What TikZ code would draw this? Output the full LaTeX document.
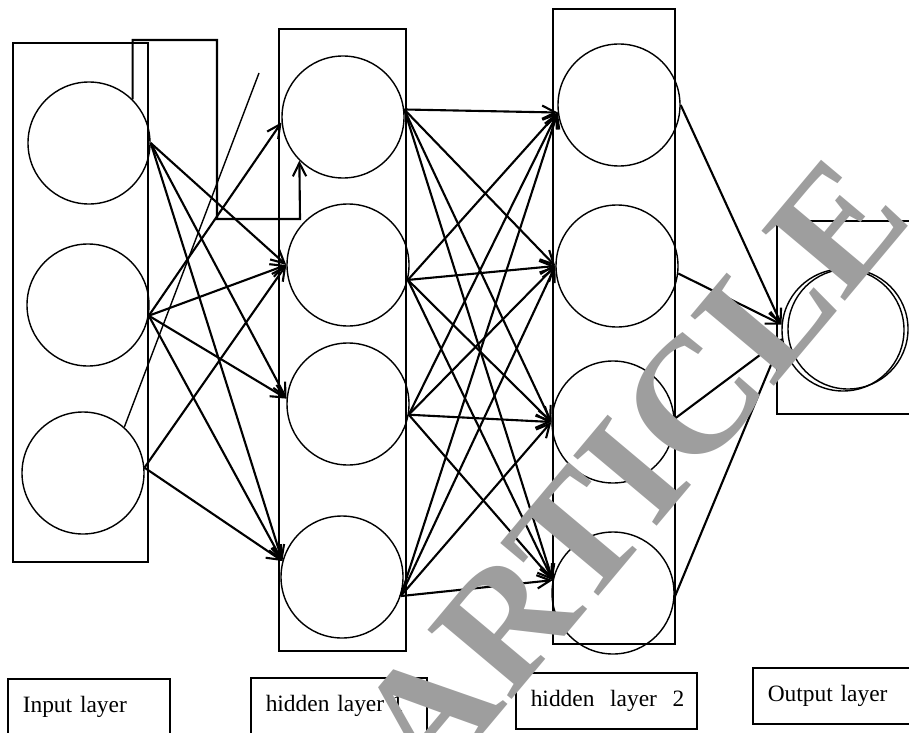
\documentclass[tikz,border=0pt]{standalone}
\usepackage{fontspec}
\setmainfont{Liberation Serif}
\usetikzlibrary{arrows.meta}
\definecolor{wmgray}{RGB}{158,158,158}
\tikzset{
  neuron/.style={circle,draw,line width=1.2pt,minimum size=3.66cm,inner sep=0pt},
  conn/.style={-{Straight Barb[length=4mm,width=4mm]},line width=1.8pt},
  layerbox/.style={line width=1.3pt},
  namebox/.style={draw,line width=1.3pt,anchor=north west,minimum height=1.68cm,inner xsep=0.45cm,align=left,font=\fontsize{20}{24}\selectfont},
  watermark/.style={text=wmgray,rotate=50,inner sep=0pt,font=\fontsize{142}{142}\selectfont\bfseries}
}
\begin{document}
\begin{tikzpicture}[x=0.03cm,y=-0.03cm]
\clip (0,0) rectangle (909,732);
% layer frames
\draw[layerbox] (13,43) rectangle (148,562);
\draw[layerbox] (279,29) rectangle (406,651);
\draw[layerbox] (553,9) rectangle (675,644);
\draw[layerbox] (777,221) rectangle (915,414);
%
       \node [neuron] at (89,143) (i1) {};
        \node [neuron] at (88,305) (i2) {};
         \node [neuron] at (83,473) (i3) {};
          \node [neuron] at (343,117) (h1) {};
           \node [neuron] at (348,265) (h2) {};
            \node [neuron] at (348,404) (h3) {};
             \node [neuron] at (342,577) (h4) {};
              \node [neuron] at (619,105) (g1) {};
               \node [neuron] at (617,266) (g2) {};
                \node [neuron] at (613,422) (g3) {};
                 \node [neuron] at (613,593) (g4) {};
                  \node [neuron,minimum size=3.6cm] at (848,329) (o2) {};
                   \node [neuron] at (843,330) (o) {};
                    \coordinate (loose) at (259,73);
%
% input -> hidden 1
\draw[conn] (i1.45) |- (217,40) |- (300,219) -- (h1.225);
\path[conn] (i1.east) edge (h2.west);
\path[conn] (i1.east) edge (h3.175);
\path[conn] (i1.east) edge (h4.165);
\path[conn] (i2.-10) edge (h1.185);
\path[conn] (i2.-10) edge (h2.west);
\path[conn] (i2.-10) edge (h3.175);
\path[conn] (i2.-10) edge (h4.165);
\path[conn] (i3.5) edge (h2.west);
\path[conn] (i3.5) edge (h4.165);
\draw[line width=1.2pt] (i3.48) -- (loose);
% hidden 1 -> hidden 2
\path[conn] (h1.7) edge (g1.187);
\path[conn] (h1.7) edge (g2.west);
\path[conn] (h1.7) edge (g3.west);
\path[conn] (h1.7) edge (g4.168);
\path[conn] (h2.-14) edge (g1.187);
\path[conn] (h2.-14) edge (g2.west);
\path[conn] (h2.-14) edge (g3.west);
\path[conn] (h2.-14) edge (g4.168);
\path[conn] (h3.-10) edge (g1.187);
\path[conn] (h3.-10) edge (g2.west);
\path[conn] (h3.-10) edge (g3.west);
\path[conn] (h3.-10) edge (g4.168);
\path[conn] (h4.-18) edge (g1.187);
\path[conn] (h4.-18) edge (g2.west);
\path[conn] (h4.-18) edge (g3.west);
\path[conn] (h4.-18) edge (g4.168);
% hidden 2 -> output
\path[conn] (g1.0) edge (o.175);
\path[conn] (g2.-7) edge (o.175);
\path[conn] (g3.3) edge (o.188);
\path[conn] (g4.-4) edge (o.188);
%
% layer names
\node [namebox,minimum width=4.86cm,text width=3.96cm] at (7,678) (nin) {Input layer};
\node [namebox,minimum width=5.28cm,text width=4.38cm] at (250,677) (nh1) {hidden layer 1};
\node [namebox,minimum width=5.43cm,text width=4.53cm] at (515,672) (nh2) {\mbox{hidden\ \ layer\ \ 2}};
\node [namebox,minimum width=4.71cm,text width=3.81cm] at (752,667) (nout) {Output layer};
%
\node [watermark] at (632,472) (wm) {ARTICLE};
\end{tikzpicture}
\end{document}
